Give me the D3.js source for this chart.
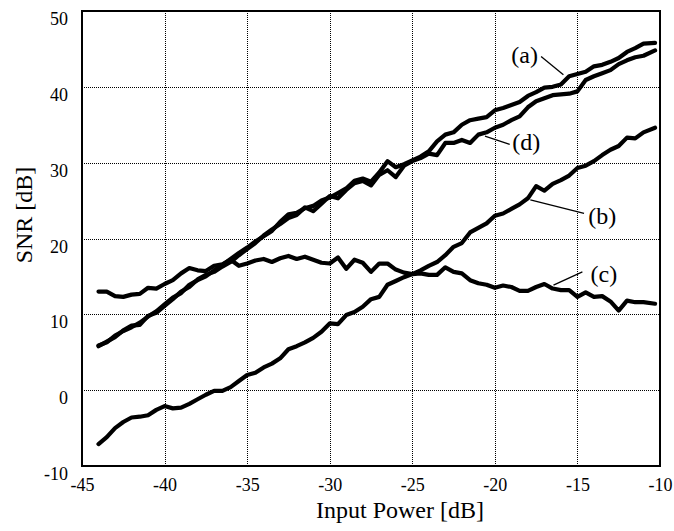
<!DOCTYPE html>
<html>
<head>
<meta charset="utf-8">
<script src="https://cdn.jsdelivr.net/npm/d3@7"></script>
<style>
  body { margin: 0; background: #fff; }
  svg text { font-family: "Liberation Serif", "Times New Roman", serif; fill: #000; }
</style>
</head>
<body>
<div id="chart"></div>
<script>
// input power grid [dB]
const inputPower = [-44, -43.5, -43, -42.5, -42, -41.5, -41, -40.5, -40, -39.5,
  -39, -38.5, -38, -37.5, -37, -36.5, -36, -35.5, -35, -34.5,
  -34, -33.5, -33, -32.5, -32, -31.5, -31, -30.5, -30, -29.5,
  -29, -28.5, -28, -27.5, -27, -26.5, -26, -25.5, -25, -24.5,
  -24, -23.5, -23, -22.5, -22, -21.5, -21, -20.5, -20, -19.5,
  -19, -18.5, -18, -17.5, -17, -16.5, -16, -15.5, -15, -14.5,
  -14, -13.5, -13, -12.5, -12, -11.5, -11, -10.3];

// SNR [dB] for each curve
const snrA = [5.9, 6.3, 7.2, 7.8, 8.3, 8.9, 9.7, 10.4, 11.3, 12.2,
  12.8, 13.9, 14.5, 15.0, 15.8, 16.5, 17.3, 18.1, 18.8, 19.6,
  20.3, 21.0, 22.2, 23.2, 23.4, 24.0, 24.3, 25.0, 25.4, 26.0,
  26.6, 27.6, 27.9, 27.5, 28.7, 30.2, 29.4, 29.8, 30.3, 30.8,
  31.5, 32.8, 33.7, 34.0, 35.0, 35.6, 35.8, 36.0, 36.9, 37.2,
  37.6, 38.0, 38.8, 39.3, 39.9, 40.0, 40.3, 41.4, 41.7, 42.0,
  42.7, 42.9, 43.3, 43.8, 44.6, 45.1, 45.7, 45.8];

const snrB = [-7.1, -6.2, -5.0, -4.2, -3.6, -3.5, -3.3, -2.6, -2.1, -2.4,
  -2.3, -1.8, -1.2, -0.6, -0.1, -0.1, 0.4, 1.2, 2.0, 2.3,
  3.0, 3.5, 4.2, 5.4, 5.8, 6.3, 6.9, 7.7, 8.8, 8.7,
  9.9, 10.3, 11.0, 12.0, 12.3, 13.9, 14.4, 14.9, 15.3, 15.8,
  16.4, 16.9, 17.8, 18.9, 19.4, 20.8, 21.4, 22.0, 23.0, 23.3,
  23.9, 24.5, 25.3, 26.9, 26.3, 27.2, 27.7, 28.3, 29.3, 29.6,
  30.2, 31.0, 31.7, 32.2, 33.3, 33.2, 34.0, 34.6];

const snrC = [13.0, 13.0, 12.4, 12.3, 12.6, 12.7, 13.5, 13.4, 14.0, 14.5,
  15.4, 16.1, 15.8, 15.7, 16.4, 16.6, 17.2, 16.4, 16.7, 17.1,
  17.3, 16.9, 17.4, 17.7, 17.3, 17.6, 17.2, 16.8, 16.7, 17.5,
  16.0, 17.2, 16.8, 15.6, 16.7, 16.7, 15.9, 15.5, 15.3, 15.4,
  15.2, 15.2, 16.2, 15.6, 15.4, 14.5, 14.1, 13.9, 13.5, 13.8,
  13.6, 13.1, 13.1, 13.6, 14.0, 13.4, 13.2, 13.2, 12.3, 12.9,
  12.3, 12.4, 11.7, 10.5, 11.8, 11.6, 11.6, 11.4];

const snrD = [5.8, 6.4, 7.0, 7.9, 8.5, 8.6, 9.8, 10.2, 11.1, 12.0,
  13.0, 13.6, 14.6, 15.2, 15.6, 16.3, 16.9, 17.8, 18.6, 19.4,
  20.4, 21.2, 21.9, 22.7, 23.1, 24.1, 23.6, 24.6, 25.6, 25.3,
  26.4, 27.3, 27.6, 27.0, 28.4, 29.0, 28.1, 29.6, 30.2, 30.6,
  31.2, 31.0, 32.6, 32.6, 33.0, 32.6, 33.7, 34.0, 34.6, 35.0,
  35.6, 36.1, 37.3, 38.1, 38.5, 38.9, 39.0, 39.1, 39.4, 40.9,
  41.4, 41.8, 42.2, 43.0, 43.5, 43.9, 44.1, 44.8];

const xTicks = [-45, -40, -35, -30, -25, -20, -15, -10];
const yTicks = [-10, 0, 10, 20, 30, 40, 50];

// curve labels: text position and leader line, in data units
const labels = [
  {text: '(a)', x: -18.2, y: 44.2, x1: -17.2, y1: 44.0, x2: -15.85, y2: 41.6},
  {text: '(d)', x: -18.1, y: 32.8, x1: -19.1, y1: 32.4, x2: -20.6, y2: 33.5},
  {text: '(b)', x: -13.5, y: 23.0, x1: -14.6, y1: 23.3, x2: -17.85, y2: 25.1},
  {text: '(c)', x: -13.4, y: 15.4, x1: -14.7, y1: 15.6, x2: -16.45, y2: 13.85}
];

const margin = {top: 11, right: 14, bottom: 65, left: 82};
const width = 674 - margin.left - margin.right;
const height = 531 - margin.top - margin.bottom;

const svg = d3.select('#chart')
  .append('svg')
  .attr('width', 674)
  .attr('height', 531)
  .append('g')
  .attr('transform', `translate(${margin.left},${margin.top})`);

const x = d3.scaleLinear().domain([-45, -10]).range([0, width]);
const y = d3.scaleLinear().domain([-10, 50]).range([height, 0]);

// dotted grid
const crisp = v => Math.round(v) + 0.5;

svg.selectAll('.vgrid')
  .data(xTicks.slice(1, -1))
  .join('line')
  .attr('x1', d => crisp(x(d))).attr('x2', d => crisp(x(d)))
  .attr('y1', 0).attr('y2', height)
  .attr('stroke', '#000')
  .attr('stroke-width', 1)
  .attr('stroke-dasharray', '1,1');

svg.selectAll('.hgrid')
  .data(yTicks.slice(1, -1))
  .join('line')
  .attr('x1', 0).attr('x2', width)
  .attr('y1', d => crisp(y(d))).attr('y2', d => crisp(y(d)))
  .attr('stroke', '#000')
  .attr('stroke-width', 1)
  .attr('stroke-dasharray', '1,1');

// axes (labels only, plain hyphen minus)
const xAxis = svg.append('g')
  .attr('transform', `translate(0,${height})`)
  .call(d3.axisBottom(x).tickValues(xTicks).tickFormat(d => String(d)).tickSize(0).tickPadding(12));
xAxis.select('.domain').remove();
xAxis.selectAll('text')
  .style('font-size', '18px')
  .style('font-family', '"Liberation Serif", serif');

const yAxis = svg.append('g')
  .call(d3.axisLeft(y).tickValues(yTicks).tickFormat(d => String(d)).tickSize(0).tickPadding(14));
yAxis.select('.domain').remove();
yAxis.selectAll('text')
  .attr('dy', '0.75em')
  .style('font-size', '18px')
  .style('font-family', '"Liberation Serif", serif');

// frame
svg.append('rect')
  .attr('width', width)
  .attr('height', height)
  .attr('fill', 'none')
  .attr('stroke', '#000')
  .attr('stroke-width', 2);

// curves
const line = d3.line()
  .x((d, i) => x(inputPower[i]))
  .y(d => y(d));

svg.selectAll('.curve')
  .data([snrB, snrC, snrD, snrA])
  .join('path')
  .attr('class', 'curve')
  .attr('d', line)
  .attr('fill', 'none')
  .attr('stroke', '#000')
  .attr('stroke-width', 4.2)
  .attr('stroke-linejoin', 'round')
  .attr('stroke-linecap', 'round');

// labels
svg.selectAll('.leader')
  .data(labels)
  .join('line')
  .attr('x1', d => x(d.x1)).attr('y1', d => y(d.y1))
  .attr('x2', d => x(d.x2)).attr('y2', d => y(d.y2))
  .attr('stroke', '#000')
  .attr('stroke-width', 1.3);

svg.selectAll('.curve-label')
  .data(labels)
  .join('text')
  .attr('x', d => x(d.x))
  .attr('y', d => y(d.y))
  .attr('dy', '0.35em')
  .attr('text-anchor', 'middle')
  .style('font-size', '24px')
  .text(d => d.text);

// axis titles
svg.append('text')
  .attr('x', 400 - margin.left)
  .attr('y', height + 52)
  .attr('text-anchor', 'middle')
  .style('font-size', '24px')
  .text('Input Power [dB]');

svg.append('text')
  .attr('transform', 'rotate(-90)')
  .attr('x', -(215 - margin.top))
  .attr('y', -50)
  .attr('text-anchor', 'middle')
  .style('font-size', '24px')
  .text('SNR [dB]');
</script>
</body>
</html>
